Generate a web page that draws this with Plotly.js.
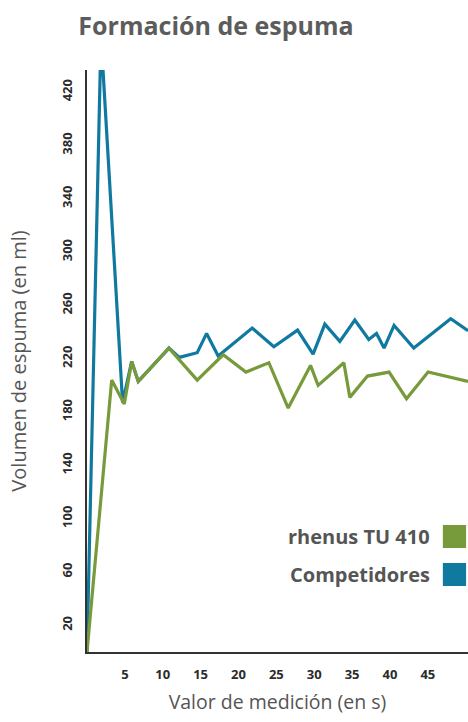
<!DOCTYPE html>
<html>
<head>
<meta charset="utf-8">
<script src="https://cdn.plot.ly/plotly-3.0.1.min.js"></script>
<style>
  html, body { margin: 0; padding: 0; background: #fff; }
  #chart { width: 468px; height: 722px; }
</style>
</head>
<body>
<div id="chart"></div>
<script>
// ---- data ----
const seriesNames = ["rhenus TU 410", "Competidores"];
const seriesColors = ["#779a3b", "#10799f"];

const rhenusX = [0, 3.26, 4.92, 5.9, 6.77, 10.82, 14.55, 17.98, 20.98, 24.01, 26.56, 29.51, 30.51, 33.91, 34.7, 37.03, 39.88, 42.18, 45.03, 50.3];
const rhenusY = [0, 204, 186, 218, 203, 228, 204, 223, 210, 217, 183, 215, 200, 217, 191, 207, 210, 190, 210, 203];

const compX = [0, 1.85, 4.7, 5.9, 6.77, 10.82, 12.18, 14.55, 15.79, 17.32, 21.81, 24.67, 27.8, 29.85, 31.4, 33.38, 35.36, 37.2, 38.22, 39.22, 40.54, 43.14, 48.02, 50.3];
const compY = [0, 462, 187, 218, 203, 228, 221, 224.5, 239, 222, 243, 229, 241.5, 223.5, 246, 233, 249, 234.5, 239, 228, 245, 228, 250, 241];

const xTicks = [5, 10, 15, 20, 25, 30, 35, 40, 45];
const yTicks = [20, 60, 100, 140, 180, 220, 260, 300, 340, 380, 420];

const titleText = "Formación de espuma";
const xTitle = "Valor de medición (en s)";
const yTitle = "Volumen de espuma (en ml)";

// ---- chart ----
const FONT = "Open Sans, DejaVu Sans, sans-serif";

const traces = [
  { x: compX, y: compY, name: seriesNames[1], type: "scatter", mode: "lines",
    line: { color: seriesColors[1], width: 3.2 }, hoverinfo: "skip" },
  { x: rhenusX, y: rhenusY, name: seriesNames[0], type: "scatter", mode: "lines",
    line: { color: seriesColors[0], width: 3.2 }, hoverinfo: "skip" }
];

const legendY = [0.1985, 0.1332];
const boxY = [[0.1787, 0.2182], [0.1134, 0.1529]];

const annotations = seriesNames.map((n, i) => ({
  xref: "paper", yref: "paper", x: 0.9055, y: legendY[i],
  xanchor: "right", yanchor: "middle", showarrow: false,
  text: "<b>" + n + "</b>",
  font: { family: FONT, size: 20, color: "#555555" }
}));

const shapes = seriesNames.map((n, i) => ({
  type: "rect", xref: "paper", yref: "paper",
  x0: 0.934, x1: 0.995, y0: boxY[i][0], y1: boxY[i][1],
  fillcolor: seriesColors[i], line: { width: 0 }
}));

const layout = {
  width: 468, height: 722,
  margin: { l: 87, r: 0, t: 70, b: 70 },
  paper_bgcolor: "#ffffff", plot_bgcolor: "#ffffff",
  showlegend: false,
  title: {
    text: "<b>" + titleText + "</b>",
    font: { family: FONT, size: 25, color: "#5c5c5c" },
    xref: "container", x: 0.4615, xanchor: "center",
    yref: "container", y: 0.964, yanchor: "middle"
  },
  xaxis: {
    range: [0, 50.3], tickvals: xTicks, ticktext: xTicks.map(String),
    showgrid: false, zeroline: false,
    showline: true, linecolor: "#333333", linewidth: 2,
    ticks: "", ticklabelstandoff: 9,
    tickfont: { family: FONT, size: 13, color: "#2b2b2b", weight: "bold" },
    title: { text: xTitle, font: { family: FONT, size: 19.5, color: "#555555" }, standoff: 14 },
    fixedrange: true
  },
  yaxis: {
    range: [0, 436.6], tickvals: yTicks, ticktext: yTicks.map(String),
    tickangle: -90,
    showgrid: false, zeroline: false,
    showline: true, linecolor: "#333333", linewidth: 2,
    ticks: "", ticklabelstandoff: 8,
    tickfont: { family: FONT, size: 13, color: "#2b2b2b", weight: "bold" },
    title: { text: yTitle, font: { family: FONT, size: 20, color: "#555555" }, standoff: 26 },
    fixedrange: true
  },
  annotations: annotations,
  shapes: shapes
};

Plotly.newPlot("chart", traces, layout, { displayModeBar: false, staticPlot: true });
</script>
</body>
</html>
